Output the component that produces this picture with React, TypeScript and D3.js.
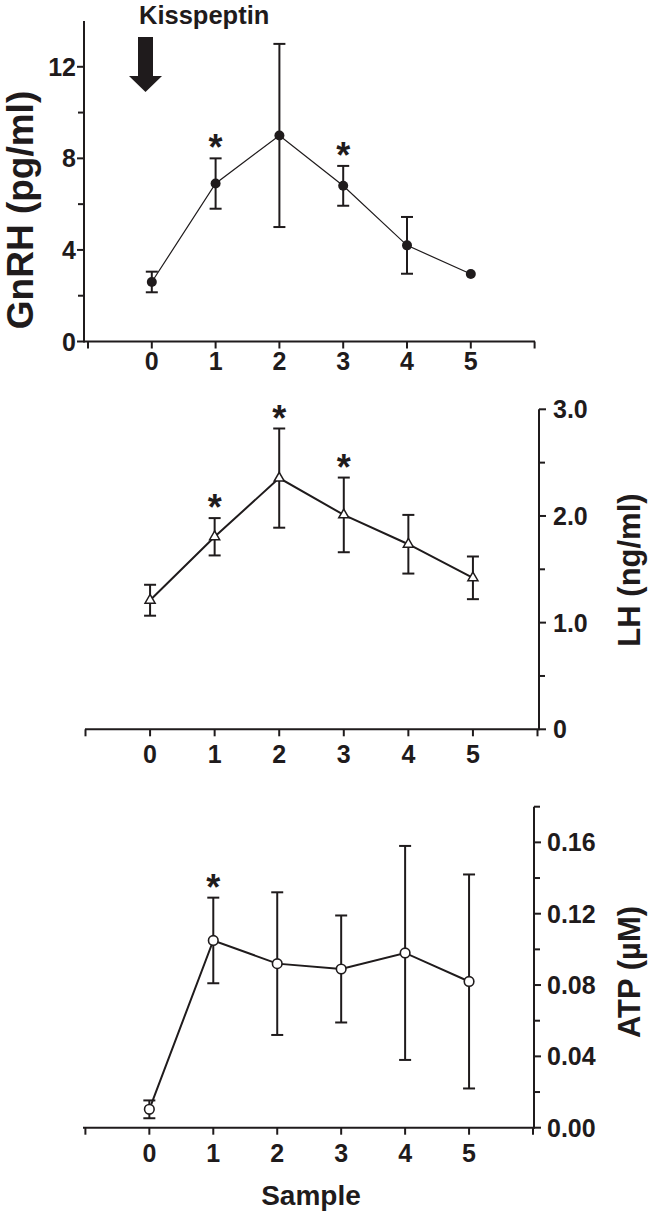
import React from "react";
import * as d3 from "d3";

// ---------- data ----------
const samples = [0, 1, 2, 3, 4, 5];
const xTickValues = [-1, 0, 1, 2, 3, 4, 5, 6];
const xTickLabels = ["", "0", "1", "2", "3", "4", "5", ""];

const gnrhMean = [2.6, 6.9, 9.0, 6.8, 4.2, 2.95];
const gnrhErr = [0.45, 1.1, 4.0, 0.87, 1.24, 0];
const gnrhSig = [false, true, false, true, false, false];
const gnrhMajor = [0, 4, 8, 12];
const gnrhMajorLabels = ["0", "4", "8", "12"];
const gnrhMinor = [2, 6, 10];

const lhMean = [1.21, 1.805, 2.355, 2.01, 1.735, 1.42];
const lhErr = [0.145, 0.175, 0.465, 0.35, 0.275, 0.2];
const lhSig = [false, true, true, true, false, false];
const lhMajor = [0, 1, 2, 3];
const lhMajorLabels = ["0", "1.0", "2.0", "3.0"];
const lhMinor = [0.5, 1.5, 2.5];

const atpMean = [0.0103, 0.105, 0.092, 0.089, 0.098, 0.082];
const atpErr = [0.005, 0.024, 0.04, 0.03, 0.06, 0.06];
const atpSig = [false, true, false, false, false, false];
const atpMajor = [0, 0.04, 0.08, 0.12, 0.16];
const atpMajorLabels = ["0.00", "0.04", "0.08", "0.12", "0.16"];
const atpMinor = [0.02, 0.06, 0.1, 0.14, 0.18];

const FONT = "'Liberation Sans', Arial, Helvetica, sans-serif";
const INK = "#1f1b1c";

type PanelProps = {
  mean: number[];
  err: number[];
  sig: boolean[];
  xRange: [number, number];
  yDomain: [number, number];
  yRange: [number, number];
  axisX: number;
  xAxisFrom: number;
  xAxisTo: number;
  side: "left" | "right";
  major: number[];
  majorLabels: string[];
  minor: number[];
  labelX: number;
  xLabelBaseline: number;
  marker: "dot" | "triangle" | "circle";
  lineWidth: number;
  title: string;
  titleX: number;
  titleY: number;
  titleSize: number;
};

function Panel(p: PanelProps) {
  const x = d3.scaleLinear().domain([-1, 6]).range(p.xRange);
  const y = d3.scaleLinear().domain(p.yDomain).range(p.yRange);
  const yBase = y(0);
  const line = d3
    .line<number>()
    .x((_, i) => x(samples[i]))
    .y((d) => y(d));
  const dir = p.side === "left" ? -1 : 1;
  const tri = d3.symbol(d3.symbolTriangle, 44)() as string;
  const cap = 6;
  return (
    <g>
      {/* x axis */}
      <line x1={p.xAxisFrom} x2={p.xAxisTo} y1={yBase} y2={yBase} stroke={INK} strokeWidth={2} />
      {xTickValues.map((v, i) => {
        const xx = x(v);
        if (xx < p.xAxisFrom - 3 || xx > p.xAxisTo + 3) return null;
        return (
          <g key={"xt" + i}>
            <line x1={xx} x2={xx} y1={yBase} y2={yBase + 7} stroke={INK} strokeWidth={2} />
            {xTickLabels[i] && (
              <text x={xx} y={p.xLabelBaseline} textAnchor="middle" fontFamily={FONT} fontWeight="bold" fontSize={25} fill={INK}>
                {xTickLabels[i]}
              </text>
            )}
          </g>
        );
      })}
      {/* y axis */}
      <line x1={p.axisX} x2={p.axisX} y1={p.yRange[0] + 1} y2={p.yRange[1]} stroke={INK} strokeWidth={2} />
      {p.major.map((v, i) => (
        <g key={"ym" + i}>
          <line x1={p.axisX} x2={p.axisX + dir * 7} y1={y(v)} y2={y(v)} stroke={INK} strokeWidth={2} />
          <text
            x={p.labelX}
            y={y(v)}
            dy="0.36em"
            textAnchor={p.side === "left" ? "end" : "start"}
            fontFamily={FONT}
            fontWeight="bold"
            fontSize={25}
            fill={INK}
          >
            {p.majorLabels[i]}
          </text>
        </g>
      ))}
      {p.minor.map((v, i) => (
        <line key={"yn" + i} x1={p.axisX} x2={p.axisX + dir * 6} y1={y(v)} y2={y(v)} stroke={INK} strokeWidth={2} />
      ))}
      {/* axis title */}
      <text
        transform={`translate(${p.titleX},${p.titleY}) rotate(-90)`}
        textAnchor="middle"
        fontFamily={FONT}
        fontWeight="bold"
        fontSize={p.titleSize}
        fill={INK}
      >
        {p.title}
      </text>
      {/* error bars */}
      {p.mean.map((m, i) => {
        if (p.err[i] <= 0) return null;
        const xx = x(samples[i]);
        const t = y(m + p.err[i]);
        const b = y(m - p.err[i]);
        return (
          <g key={"eb" + i} stroke={INK} strokeWidth={2}>
            <line x1={xx} x2={xx} y1={t} y2={b} />
            <line x1={xx - cap} x2={xx + cap} y1={t} y2={t} />
            <line x1={xx - cap} x2={xx + cap} y1={b} y2={b} />
          </g>
        );
      })}
      {/* line */}
      <path d={line(p.mean) as string} fill="none" stroke={INK} strokeWidth={p.lineWidth} />
      {/* markers */}
      {p.mean.map((m, i) => {
        const xx = x(samples[i]);
        const yy = y(m);
        if (p.marker === "dot") return <circle key={"mk" + i} cx={xx} cy={yy} r={5} fill={INK} />;
        if (p.marker === "circle")
          return <circle key={"mk" + i} cx={xx} cy={yy} r={4.8} fill="#fff" stroke={INK} strokeWidth={1.6} />;
        return <path key={"mk" + i} d={tri} transform={`translate(${xx},${yy})`} fill="#fff" stroke={INK} strokeWidth={1.5} />;
      })}
      {/* significance */}
      {p.mean.map((m, i) =>
        p.sig[i] ? (
          <text
            key={"sg" + i}
            x={x(samples[i])}
            y={y(m + p.err[i]) + 2}
            textAnchor="middle"
            fontFamily={FONT}
            fontWeight="bold"
            fontSize={36}
            fill={INK}
          >
            *
          </text>
        ) : null
      )}
    </g>
  );
}

export default function App() {
  return (
    <svg width={652} height={1215} style={{ position: "absolute", left: 0, top: 0, background: "#fff" }}>
      <rect x={0} y={0} width={652} height={1215} fill="#fff" />
      {/* Kisspeptin annotation */}
      <text x={139} y={24} fontFamily={FONT} fontWeight="bold" fontSize={25.5} fill={INK}>
        Kisspeptin
      </text>
      <path d="M138,37 L153,37 L153,76 L162,76 L145.5,92 L129,76 L138,76 Z" fill={INK} />

      <Panel
        mean={gnrhMean}
        err={gnrhErr}
        sig={gnrhSig}
        xRange={[88, 534.6]}
        yDomain={[0, 14]}
        yRange={[341.5, 21]}
        axisX={84}
        xAxisFrom={84}
        xAxisTo={535}
        side="left"
        major={gnrhMajor}
        majorLabels={gnrhMajorLabels}
        minor={gnrhMinor}
        labelX={76}
        xLabelBaseline={370}
        marker="dot"
        lineWidth={1.2}
        title="GnRH (pg/ml)"
        titleX={33}
        titleY={210}
        titleSize={37}
      />
      <Panel
        mean={lhMean}
        err={lhErr}
        sig={lhSig}
        xRange={[85.5, 537.5]}
        yDomain={[0, 3]}
        yRange={[729.3, 409.3]}
        axisX={539}
        xAxisFrom={85}
        xAxisTo={539}
        side="right"
        major={lhMajor}
        majorLabels={lhMajorLabels}
        minor={lhMinor}
        labelX={553}
        xLabelBaseline={763}
        marker="triangle"
        lineWidth={2}
        title="LH (ng/ml)"
        titleX={640}
        titleY={570}
        titleSize={31}
      />
      <Panel
        mean={atpMean}
        err={atpErr}
        sig={atpSig}
        xRange={[85.4, 533]}
        yDomain={[0, 0.18]}
        yRange={[1127.7, 806.7]}
        axisX={534}
        xAxisFrom={83}
        xAxisTo={534}
        side="right"
        major={atpMajor}
        majorLabels={atpMajorLabels}
        minor={atpMinor}
        labelX={547}
        xLabelBaseline={1162}
        marker="circle"
        lineWidth={2}
        title="ATP (µM)"
        titleX={640}
        titleY={972}
        titleSize={31}
      />
      <text x={311} y={1205} textAnchor="middle" fontFamily={FONT} fontWeight="bold" fontSize={28} fill={INK}>
        Sample
      </text>
    </svg>
  );
}
